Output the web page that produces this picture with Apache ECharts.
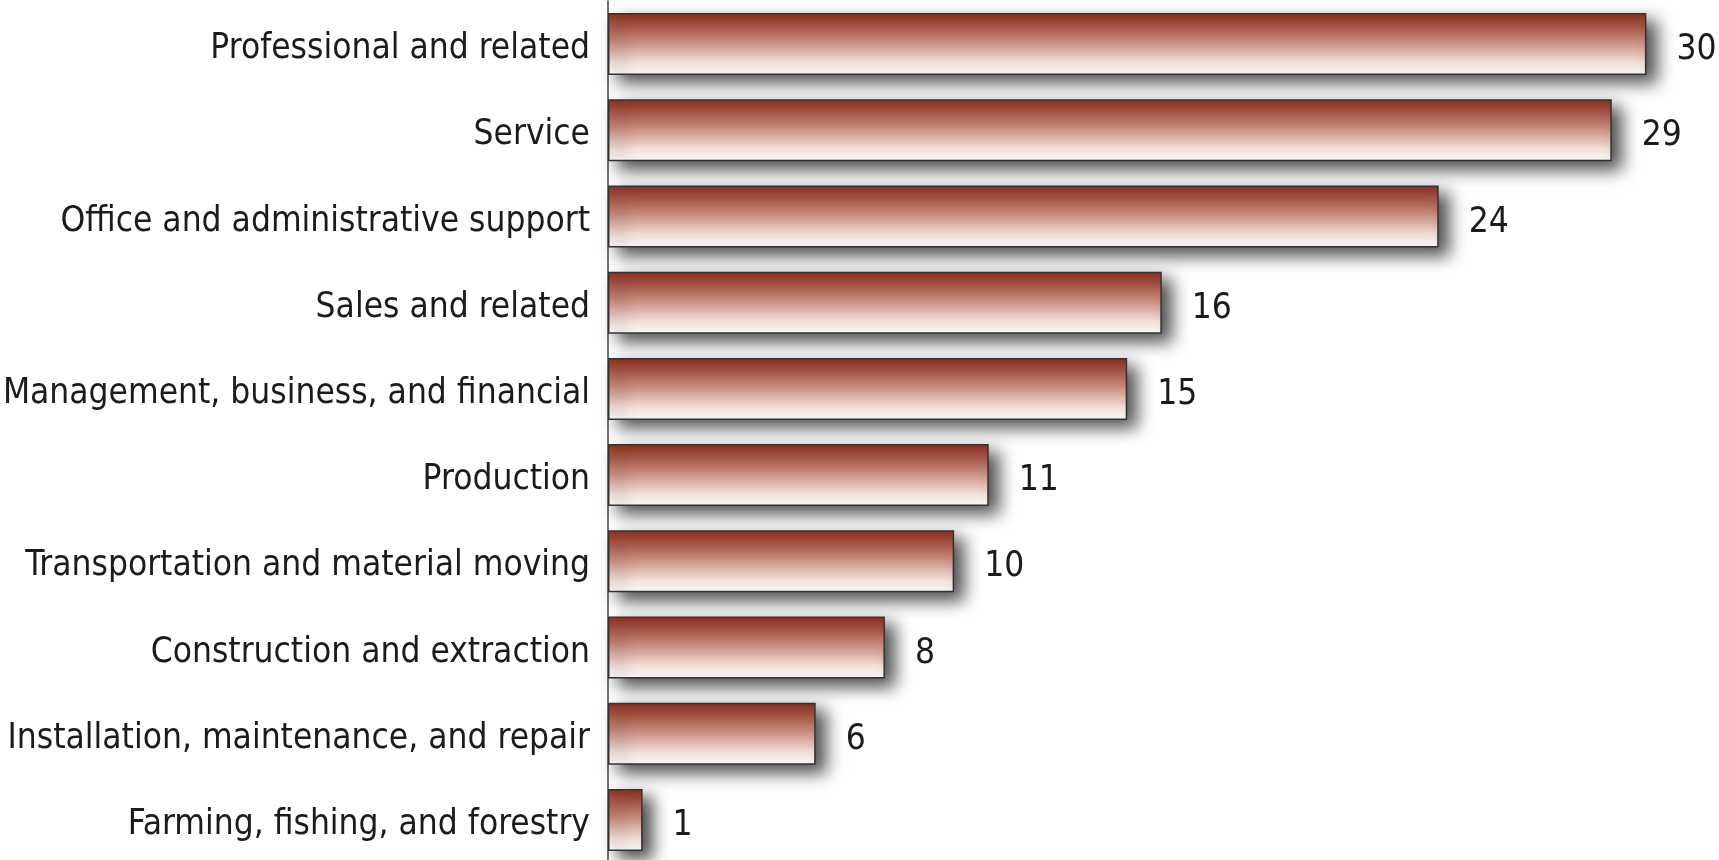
<!DOCTYPE html>
<html>
<head>
<meta charset="utf-8">
<script src="https://cdn.jsdelivr.net/npm/echarts@6/dist/echarts.min.js"></script>
<style>
html,body{margin:0;padding:0;background:#fff;}
#chart{width:1719px;height:860px;}
</style>
</head>
<body>
<div id="chart"></div>
<script>
const categories = [
  "Professional and related",
  "Service",
  "Office and administrative support",
  "Sales and related",
  "Management, business, and financial",
  "Production",
  "Transportation and material moving",
  "Construction and extraction",
  "Installation, maintenance, and repair",
  "Farming, fishing, and forestry"
];
const values = [30, 29, 24, 16, 15, 11, 10, 8, 6, 1];

const FONT = '"DejaVu Sans Condensed", sans-serif';
const chart = echarts.init(document.getElementById('chart'));
chart.setOption({
  animation: false,
  backgroundColor: '#fff',
  grid: { left: 608, right: 38, top: 1, bottom: -3, containLabel: false, outerBoundsMode: 'none' },
  xAxis: {
    type: 'value', min: 0, max: 31,
    show: false
  },
  yAxis: {
    type: 'category', data: categories, inverse: true,
    axisLine: { show: true, lineStyle: { color: '#444', width: 1.5 } },
    axisTick: { show: false },
    axisLabel: {
      color: '#1e1a1b', fontSize: 35, fontFamily: FONT, margin: 18,
      formatter: '{a|{value}}',
      rich: { a: { color: '#1e1a1b', fontSize: 35, fontFamily: FONT, padding: [10, 0, 0, 0] } }
    }
  },
  series: [{
    type: 'bar',
    data: values,
    barWidth: 62,
    itemStyle: {
      color: new echarts.graphic.LinearGradient(0, 0, 0, 1, [
        { offset: 0, color: '#922e1e' },
        { offset: 0.45, color: '#c6897a' },
        { offset: 0.8, color: '#f2e0da' },
        { offset: 1, color: '#ffffff' }
      ]),
      borderColor: '#333',
      borderWidth: 1.5,
      shadowColor: 'rgba(0,0,0,0.7)',
      shadowBlur: 16,
      shadowOffsetX: 10,
      shadowOffsetY: 8
    },
    label: {
      show: true, position: 'right', distance: 30, offset: [0, 6],
      color: '#1e1a1b', fontSize: 35, fontFamily: FONT
    }
  }]
});
</script>
</body>
</html>
